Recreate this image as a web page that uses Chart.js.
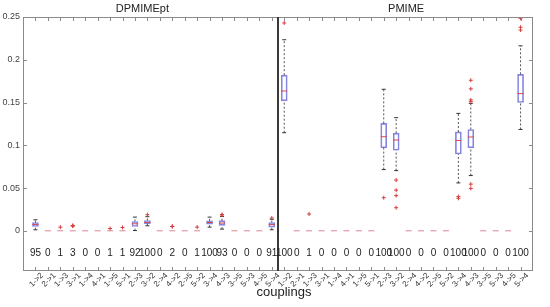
<!DOCTYPE html>
<html>
<head>
<meta charset="utf-8">
<script src="https://cdn.jsdelivr.net/npm/chart.js@4.4.0/dist/chart.umd.min.js"></script>
<style>
  html, body { margin: 0; padding: 0; background: #fff; }
  #wrap { width: 550px; height: 307px; }
</style>
</head>
<body>
<div id="wrap"><canvas id="c"></canvas></div>
<script>
const couplings = ['1->2','2->1','1->3','3->1','1->4','4->1','1->5','5->1','2->3','3->2',
                   '2->4','4->2','2->5','5->2','3->4','4->3','3->5','5->3','4->5','5->4'];
const methods = ['DPMIMEpt', 'PMIME'];

// number of detections (out of 100) per coupling
const countsDP = [95,0,1,3,0,0,1,1,92,100,0,2,0,1,100,93,0,0,0,91];
const countsPM = [100,0,1,0,0,0,0,0,100,100,0,0,0,0,100,100,0,0,0,100];

// box statistics, DPMIMEpt
const dpQ1  = [0.0050,0,0,0,0,0,0,0,0.0050,0.0082,0,0,0,0,0.0079,0.0063,0,0,0,0.0043];
const dpMed = [0.0074,0,0,0,0,0,0,0,0.0082,0.0097,0,0,0,0,0.0097,0.0090,0,0,0,0.0074];
const dpQ3  = [0.0097,0,0,0,0,0,0,0,0.0109,0.0121,0,0,0,0,0.0117,0.0119,0,0,0,0.0097];
const dpLo  = [0.0012,0,0,0,0,0,0,0,0.0003,0.0059,0,0,0,0,0.0043,0.0020,0,0,0,0.0012];
const dpHi  = [0.0129,0,0,0,0,0,0,0,0.0160,0.0165,0,0,0,0,0.0160,0.0168,0,0,0,0.0135];
const dpOut = [[],[],[0.0043],[0.0055,0.0059,0.0062],[],[],[0.0027],[0.0039],[],[0.0188],
               [],[0.0050,0.0052],[],[0.0043],[],[0.0186,0.0190],[],[],[],[0.0149]];

// box statistics, PMIME
const pmQ1  = [0.152,0,0,0,0,0,0,0,0.0971,0.0942,0,0,0,0,0.0898,0.0970,0,0,0,0.150];
const pmMed = [0.1635,0,0,0,0,0,0,0,0.110,0.1062,0,0,0,0,0.1056,0.1097,0,0,0,0.1604];
const pmQ3  = [0.182,0,0,0,0,0,0,0,0.1256,0.1142,0,0,0,0,0.1156,0.1185,0,0,0,0.183];
const pmLo  = [0.1147,0,0,0,0,0,0,0,0.0716,0.0704,0,0,0,0,0.056,0.0646,0,0,0,0.1185];
const pmHi  = [0.2234,0,0,0,0,0,0,0,0.1655,0.1323,0,0,0,0,0.1373,0.149,0,0,0,0.2163];
const pmOut = [[0.243],[],[0.0196],[],[],[],[],[],[0.0387],[0.0593,0.0475,0.0411,0.027],
               [],[],[],[],[0.040,0.038],[0.176,0.166,0.153,0.151,0.0546,0.0496],[],[],[],[0.2485,0.238,0.2347]];

const yTicks = [0, 0.05, 0.1, 0.15, 0.2, 0.25];

const FONT = '"Liberation Sans", Arial, sans-serif';
const groups = [
  { q1: dpQ1, med: dpMed, q3: dpQ3, lo: dpLo, hi: dpHi, out: dpOut, counts: countsDP },
  { q1: pmQ1, med: pmMed, q3: pmQ3, lo: pmLo, hi: pmHi, out: pmOut, counts: countsPM }
];
const n = couplings.length;
const positions = [];
const labels = [];
const boxes = [], whiskers = [], caps = [], medians = [], zeroMed = [], outliers = [];
groups.forEach((g, m) => {
  for (let i = 0; i < n; i++) {
    const x = m * n + i + 1;
    positions.push(x);
    labels.push(couplings[i]);
    if (g.q3[i] > g.q1[i]) {
      boxes.push({ x, y: [g.q1[i], g.q3[i]] });
      whiskers.push({ x, y: g.q3[i] }, { x, y: g.hi[i] }, { x, y: null });
      whiskers.push({ x, y: g.lo[i] }, { x, y: g.q1[i] }, { x, y: null });
      caps.push({ x, y: g.hi[i] }, { x, y: g.lo[i] });
      medians.push({ x, y: g.med[i] });
    } else {
      zeroMed.push({ x, y: g.med[i] });
    }
    g.out[i].forEach(v => outliers.push({ x, y: v }));
  }
});

const framePlugin = {
  id: 'frame',
  afterDraw(chart) {
    const { ctx, chartArea: a, scales: { x, y } } = chart;
    ctx.save();
    // frame
    ctx.strokeStyle = '#8a8a8a';
    ctx.lineWidth = 1;
    ctx.strokeRect(a.left + 0.5, a.top + 0.5, a.right - a.left - 1, a.bottom - a.top - 1);
    // inward ticks
    ctx.beginPath();
    positions.forEach(v => {
      const px = Math.round(x.getPixelForValue(v)) + 0.5;
      ctx.moveTo(px, a.top); ctx.lineTo(px, a.top + 4);
      ctx.moveTo(px, a.bottom); ctx.lineTo(px, a.bottom - 4);
    });
    yTicks.forEach(v => {
      const py = Math.round(y.getPixelForValue(v)) + 0.5;
      ctx.moveTo(a.left, py); ctx.lineTo(a.left + 4, py);
      ctx.moveTo(a.right, py); ctx.lineTo(a.right - 4, py);
    });
    ctx.stroke();
    // separator between methods
    const sx = x.getPixelForValue(n + 0.5);
    ctx.strokeStyle = '#3a3a3a';
    ctx.lineWidth = 2;
    ctx.beginPath();
    ctx.moveTo(sx, a.top); ctx.lineTo(sx, a.bottom);
    ctx.stroke();
    // titles
    ctx.fillStyle = '#222';
    ctx.font = '11px ' + FONT;
    ctx.textAlign = 'center';
    ctx.textBaseline = 'middle';
    ctx.fillText(methods[0], x.getPixelForValue(9.6), 9);
    ctx.fillText(methods[1], x.getPixelForValue(30.8), 9);
    // detection counts
    ctx.font = '10px ' + FONT;
    const cy = y.getPixelForValue(-0.026);
    groups.forEach((g, m) => {
      g.counts.forEach((c, i) => ctx.fillText(String(c), x.getPixelForValue(m * n + i + 1), cy));
    });
    // rotated coupling labels
    ctx.font = '8px ' + FONT;
    ctx.fillStyle = '#333';
    positions.forEach((v, k) => {
      ctx.save();
      ctx.translate(x.getPixelForValue(v) + 1, a.bottom + 9);
      ctx.rotate(-Math.PI / 4);
      ctx.fillText(labels[k], 0, 0);
      ctx.restore();
    });
    // axis title
    ctx.fillStyle = '#222';
    ctx.font = '13px ' + FONT;
    ctx.fillText('couplings', 284, 292);
    ctx.restore();
  }
};

new Chart(document.getElementById('c'), {
  type: 'bar',
  data: {
    datasets: [
      { type: 'bar', data: boxes, order: 6, barThickness: 6, grouped: false,
        backgroundColor: 'rgba(255,255,255,0)', borderColor: '#8484e2', borderWidth: 1, borderSkipped: false },
      { type: 'line', data: whiskers, order: 5, spanGaps: false, borderColor: '#555',
        borderWidth: 1, borderDash: [2, 2], pointRadius: 0, fill: false },
      { type: 'scatter', data: caps, order: 4, pointStyle: 'line', pointRadius: 2,
        borderColor: '#333', borderWidth: 1 },
      { type: 'scatter', data: zeroMed, order: 3, pointStyle: 'line', pointRadius: 3,
        borderColor: '#d98595', borderWidth: 1 },
      { type: 'scatter', data: medians, order: 2, pointStyle: 'line', pointRadius: 3,
        borderColor: '#e04848', borderWidth: 1 },
      { type: 'scatter', data: outliers, order: 1, pointStyle: 'cross', pointRadius: 2,
        borderColor: '#d83c3c', borderWidth: 1 }
    ]
  },
  options: {
    responsive: true,
    maintainAspectRatio: false,
    animation: false,
    layout: { padding: { top: 17, right: 17, left: 0, bottom: 0 } },
    plugins: { legend: { display: false }, tooltip: { enabled: false } },
    scales: {
      x: {
        type: 'linear', min: 0, max: 2 * n + 1, offset: false,
        grid: { display: false, drawTicks: false }, border: { display: false },
        afterBuildTicks: s => { s.ticks = positions.map(v => ({ value: v })); },
        afterFit: s => { s.height = 36; },
        ticks: { display: false }
      },
      y: {
        type: 'linear', min: -0.047, max: 0.25,
        grid: { display: false, drawTicks: false }, border: { display: false },
        afterBuildTicks: s => { s.ticks = yTicks.map(v => ({ value: v })); },
        afterFit: s => { s.width = 23; },
        ticks: {
          padding: 3, color: '#444', font: { size: 9, family: FONT },
          callback: v => String(+v.toFixed(2))
        }
      }
    }
  },
  plugins: [framePlugin]
});
</script>
</body>
</html>
